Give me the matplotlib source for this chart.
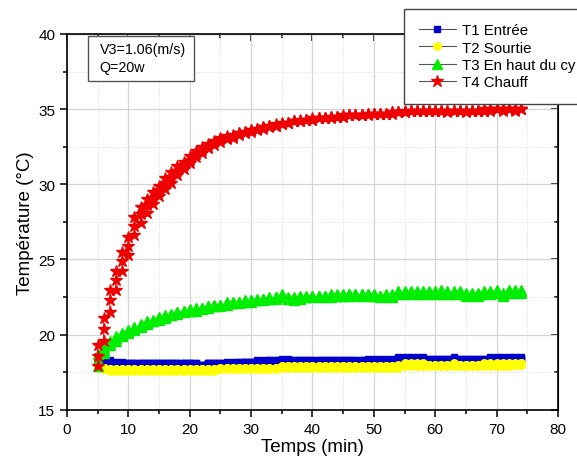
import numpy as np
import matplotlib
matplotlib.use("Agg")
import matplotlib.pyplot as plt
from matplotlib.patches import Rectangle
from matplotlib.ticker import MultipleLocator

plt.rcParams['font.family'] = ['Liberation Sans', 'DejaVu Sans']

# acquisition: 3 readings per minute, time logged in whole minutes
minutes = list(range(5, 75))
per_min = 3

t1_entree = [
    18.0, 18.3, 18.6,  18.5, 18.4, 18.3,  18.3, 18.2, 18.2,  18.2, 18.1, 18.1,  # 5-8
    18.1, 18.1, 18.2,  18.1, 18.1, 18.1,  18.1, 18.1, 18.1,  18.1, 18.1, 18.1,  # 9-12
    18.1, 18.1, 18.1,  18.1, 18.1, 18.1,  18.1, 18.1, 18.1,  18.1, 18.1, 18.1,  # 13-16
    18.1, 18.1, 18.1,  18.1, 18.1, 18.1,  18.1, 18.1, 18.1,  18.1, 18.1, 18.1,  # 17-20
    18.1, 18.1, 18.0,  18.0, 18.0, 18.0,  18.1, 18.1, 18.1,  18.1, 18.1, 18.1,  # 21-24
    18.1, 18.1, 18.1,  18.1, 18.1, 18.2,  18.1, 18.1, 18.2,  18.1, 18.2, 18.2,  # 25-28
    18.2, 18.2, 18.2,  18.2, 18.2, 18.2,  18.2, 18.2, 18.3,  18.2, 18.2, 18.3,  # 29-32
    18.2, 18.3, 18.3,  18.2, 18.3, 18.3,  18.3, 18.3, 18.4,  18.3, 18.3, 18.4,  # 33-36
    18.2, 18.3, 18.3,  18.2, 18.3, 18.3,  18.2, 18.3, 18.3,  18.2, 18.3, 18.3,  # 37-40
    18.2, 18.3, 18.3,  18.2, 18.3, 18.3,  18.2, 18.3, 18.3,  18.2, 18.3, 18.3,  # 41-44
    18.2, 18.3, 18.3,  18.2, 18.3, 18.3,  18.2, 18.3, 18.3,  18.2, 18.3, 18.3,  # 45-48
    18.3, 18.3, 18.4,  18.3, 18.3, 18.4,  18.3, 18.3, 18.4,  18.3, 18.3, 18.4,  # 49-52
    18.3, 18.3, 18.4,  18.4, 18.4, 18.5,  18.4, 18.4, 18.5,  18.4, 18.4, 18.5,  # 53-56
    18.4, 18.4, 18.5,  18.4, 18.4, 18.5,  18.3, 18.4, 18.4,  18.3, 18.4, 18.4,  # 57-60
    18.3, 18.4, 18.4,  18.3, 18.4, 18.4,  18.4, 18.4, 18.5,  18.3, 18.4, 18.4,  # 61-64
    18.3, 18.4, 18.4,  18.3, 18.4, 18.4,  18.3, 18.4, 18.4,  18.3, 18.4, 18.4,  # 65-68
    18.4, 18.4, 18.5,  18.4, 18.4, 18.5,  18.4, 18.4, 18.5,  18.4, 18.4, 18.5,  # 69-72
    18.4, 18.4, 18.5,  18.4, 18.4, 18.5,                                        # 73-74
]

t2_sortie = [
    18.0, 17.9, 17.8,  17.8, 17.8, 17.7,  17.7, 17.7, 17.6,  17.6, 17.7, 17.7,  # 5-8
    17.6, 17.7, 17.7,  17.6, 17.7, 17.7,  17.6, 17.7, 17.7,  17.6, 17.7, 17.7,  # 9-12
    17.6, 17.7, 17.7,  17.6, 17.7, 17.7,  17.6, 17.7, 17.7,  17.6, 17.7, 17.7,  # 13-16
    17.6, 17.7, 17.7,  17.6, 17.7, 17.7,  17.6, 17.7, 17.7,  17.6, 17.7, 17.7,  # 17-20
    17.6, 17.7, 17.7,  17.6, 17.7, 17.7,  17.6, 17.7, 17.7,  17.6, 17.7, 17.7,  # 21-24
    17.7, 17.8, 17.8,  17.7, 17.8, 17.8,  17.7, 17.8, 17.8,  17.7, 17.8, 17.8,  # 25-28
    17.7, 17.8, 17.8,  17.7, 17.8, 17.8,  17.7, 17.8, 17.8,  17.7, 17.8, 17.8,  # 29-32
    17.7, 17.8, 17.8,  17.7, 17.8, 17.8,  17.8, 17.9, 17.9,  17.8, 17.9, 17.9,  # 33-36
    17.8, 17.9, 17.9,  17.8, 17.9, 17.9,  17.8, 17.9, 17.9,  17.8, 17.9, 17.9,  # 37-40
    17.8, 17.9, 17.9,  17.8, 17.9, 17.9,  17.8, 17.9, 17.9,  17.8, 17.9, 17.9,  # 41-44
    17.8, 17.9, 17.9,  17.8, 17.9, 17.9,  17.8, 17.9, 17.9,  17.8, 17.9, 17.9,  # 45-48
    17.8, 17.9, 17.9,  17.8, 17.9, 17.9,  17.8, 17.9, 17.9,  17.8, 17.9, 17.9,  # 49-52
    17.8, 17.9, 17.9,  17.8, 17.9, 18.0,  17.9, 18.0, 18.1,  17.9, 18.0, 18.1,  # 53-56
    17.9, 18.0, 18.1,  17.9, 18.0, 18.1,  17.9, 18.0, 18.0,  17.9, 18.0, 18.0,  # 57-60
    17.9, 18.0, 18.0,  17.9, 18.0, 18.0,  17.9, 18.0, 18.1,  17.9, 18.0, 18.0,  # 61-64
    17.9, 18.0, 18.0,  17.9, 18.0, 18.0,  17.9, 18.0, 18.0,  17.9, 18.0, 18.1,  # 65-68
    17.9, 18.0, 18.1,  17.9, 18.0, 18.1,  17.9, 18.0, 18.1,  17.9, 18.0, 18.1,  # 69-72
    18.0, 18.0, 18.1,  18.0, 18.1, 18.1,                                        # 73-74
]

t3_haut = [
    17.9, 18.3, 18.7,  18.8, 19.0, 19.2,  19.3, 19.5, 19.6,  19.6, 19.8, 19.9,  # 5-8
    19.9, 20.0, 20.1,  20.1, 20.2, 20.3,  20.3, 20.4, 20.5,  20.5, 20.6, 20.7,  # 9-12
    20.7, 20.8, 20.9,  20.9, 20.9, 21.0,  21.0, 21.1, 21.2,  21.1, 21.2, 21.3,  # 13-16
    21.3, 21.3, 21.4,  21.4, 21.5, 21.5,  21.5, 21.6, 21.6,  21.6, 21.6, 21.7,  # 17-20
    21.6, 21.7, 21.8,  21.7, 21.8, 21.8,  21.8, 21.9, 21.9,  21.9, 21.9, 22.0,  # 21-24
    21.9, 22.0, 22.0,  22.0, 22.1, 22.2,  22.1, 22.1, 22.2,  22.1, 22.2, 22.2,  # 25-28
    22.2, 22.2, 22.3,  22.2, 22.3, 22.3,  22.3, 22.3, 22.4,  22.3, 22.4, 22.4,  # 29-32
    22.4, 22.4, 22.5,  22.4, 22.5, 22.5,  22.5, 22.6, 22.7,  22.4, 22.4, 22.5,  # 33-36
    22.3, 22.4, 22.5,  22.4, 22.5, 22.6,  22.5, 22.5, 22.6,  22.5, 22.6, 22.6,  # 37-40
    22.5, 22.6, 22.6,  22.5, 22.6, 22.6,  22.5, 22.6, 22.7,  22.6, 22.6, 22.7,  # 41-44
    22.6, 22.6, 22.7,  22.6, 22.7, 22.7,  22.6, 22.7, 22.7,  22.6, 22.7, 22.7,  # 45-48
    22.6, 22.7, 22.7,  22.6, 22.6, 22.7,  22.5, 22.6, 22.6,  22.5, 22.6, 22.7,  # 49-52
    22.5, 22.6, 22.7,  22.7, 22.8, 22.9,  22.7, 22.8, 22.9,  22.7, 22.8, 22.9,  # 53-56
    22.7, 22.8, 22.9,  22.7, 22.8, 22.9,  22.7, 22.8, 22.9,  22.7, 22.8, 22.9,  # 57-60
    22.7, 22.8, 23.0,  22.7, 22.8, 22.9,  22.7, 22.8, 22.9,  22.7, 22.8, 22.9,  # 61-64
    22.6, 22.7, 22.8,  22.6, 22.7, 22.8,  22.6, 22.7, 22.8,  22.7, 22.8, 22.9,  # 65-68
    22.7, 22.8, 22.9,  22.8, 22.9, 23.0,  22.6, 22.7, 22.8,  22.8, 22.9, 23.0,  # 69-72
    22.8, 22.9, 23.0,  22.8, 22.9, 23.0,                                        # 73-74
]

t4_chauff = [
    17.9, 18.6, 19.3,  19.6, 20.4, 21.1,  21.5, 22.3, 23.0,  23.0, 23.6, 24.2,  # 5-8
    24.2, 24.9, 25.5,  25.3, 25.9, 26.5,  26.6, 27.2, 27.8,  27.4, 28.0, 28.5,  # 9-12
    28.1, 28.6, 29.0,  28.7, 29.1, 29.5,  29.2, 29.6, 29.9,  29.7, 30.1, 30.4,  # 13-16
    30.1, 30.5, 30.8,  30.6, 30.9, 31.2,  31.0, 31.3, 31.5,  31.4, 31.6, 31.9,  # 17-20
    31.8, 32.0, 32.2,  32.1, 32.3, 32.5,  32.4, 32.5, 32.7,  32.6, 32.8, 32.9,  # 21-24
    32.8, 33.0, 33.1,  33.0, 33.1, 33.2,  33.1, 33.2, 33.3,  33.3, 33.4, 33.4,  # 25-28
    33.4, 33.5, 33.5,  33.5, 33.6, 33.6,  33.6, 33.7, 33.7,  33.7, 33.8, 33.8,  # 29-32
    33.8, 33.9, 33.9,  33.9, 33.9, 34.0,  34.0, 34.0, 34.1,  34.1, 34.1, 34.1,  # 33-36
    34.2, 34.2, 34.2,  34.2, 34.2, 34.3,  34.3, 34.3, 34.3,  34.3, 34.3, 34.4,  # 37-40
    34.4, 34.4, 34.4,  34.4, 34.4, 34.4,  34.4, 34.5, 34.5,  34.5, 34.5, 34.5,  # 41-44
    34.5, 34.5, 34.6,  34.6, 34.6, 34.6,  34.6, 34.6, 34.6,  34.6, 34.6, 34.6,  # 45-48
    34.6, 34.7, 34.7,  34.7, 34.7, 34.7,  34.7, 34.7, 34.7,  34.7, 34.7, 34.7,  # 49-52
    34.7, 34.8, 34.8,  34.8, 34.8, 34.8,  34.8, 34.8, 34.9,  34.9, 34.9, 34.9,  # 53-56
    34.9, 34.9, 34.9,  34.9, 34.9, 34.9,  34.9, 34.9, 34.9,  34.9, 34.9, 34.9,  # 57-60
    34.9, 34.9, 34.9,  34.8, 34.9, 34.9,  34.9, 34.9, 34.9,  34.9, 34.9, 34.9,  # 61-64
    34.8, 34.9, 34.9,  34.9, 34.9, 34.9,  34.9, 34.9, 34.9,  34.9, 34.9, 35.0,  # 65-68
    34.9, 35.0, 35.0,  35.0, 35.0, 35.0,  35.0, 35.0, 34.9,  35.0, 35.0, 35.0,  # 69-72
    34.9, 35.0, 35.0,  35.0, 35.0, 35.0,                                        # 73-74
]

labels = ["T1 Entrée", "T2 Sourtie", "T3 En haut du cy", "T4 Chauff"]

temps = np.repeat(minutes, per_min)

fig = plt.figure(figsize=(5.77, 4.60), dpi=100)
ax = fig.add_axes([0.116, 0.107, 0.851, 0.817])

series = [
    (t1_entree, 's', '#0000cc', 5.0),
    (t2_sortie, 'o', '#ffff00', 5.4),
    (t3_haut, '^', '#00ee00', 7.0),
    (t4_chauff, '*', '#ee0000', 9.0),
]
for (vals, mk, col, ms), lab in zip(series, labels):
    ax.plot(temps, vals, color=col, lw=0.8, marker=mk, ms=ms,
            mfc=col, mec=col, label=lab, zorder=3)

ax.set_xlim(0, 80)
ax.set_ylim(15, 40)
ax.xaxis.set_major_locator(MultipleLocator(10))
ax.xaxis.set_minor_locator(MultipleLocator(5))
ax.yaxis.set_major_locator(MultipleLocator(5))
ax.yaxis.set_minor_locator(MultipleLocator(2.5))
ax.grid(which='major', color='#d4d4d4', lw=0.9)
ax.grid(which='minor', color='#dadada', lw=0.7, ls=':')
ax.set_axisbelow(True)

ax.tick_params(which='both', direction='out', labelsize=11, width=1.1)
ax.tick_params(which='major', length=5)
ax.tick_params(which='minor', length=3)
for sp in ax.spines.values():
    sp.set_linewidth(1.2)

# top and right axes: ticks pointing inwards, no labels
top = ax.secondary_xaxis('top')
top.xaxis.set_major_locator(MultipleLocator(10))
top.xaxis.set_minor_locator(MultipleLocator(5))
top.tick_params(which='both', direction='in', labeltop=False, width=1.1)
top.tick_params(which='major', length=5)
top.tick_params(which='minor', length=3)
right = ax.secondary_yaxis('right')
right.yaxis.set_major_locator(MultipleLocator(5))
right.yaxis.set_minor_locator(MultipleLocator(2.5))
right.tick_params(which='both', direction='in', labelright=False, width=1.1)
right.tick_params(which='major', length=5)
right.tick_params(which='minor', length=3)

ax.set_xlabel("Temps (min)", fontsize=13.5, labelpad=2)
ax.set_ylabel("Température (°C)", fontsize=13.5, labelpad=3)

# info box with flow speed and heating power
ax.add_patch(Rectangle((0.043, 0.875), 0.216, 0.12, transform=ax.transAxes,
                       fc='white', ec='#555555', lw=1, zorder=4))
ax.text(0.067, 0.978, "V3=1.06(m/s)\nQ=20w", transform=ax.transAxes,
        fontsize=10.3, va='top', ha='left', linespacing=1.3, zorder=5)

leg = fig.legend(loc='upper left', bbox_to_anchor=(0.701, 0.978),
                 fontsize=10.8, frameon=True, fancybox=False, edgecolor='#444444',
                 framealpha=1, handlelength=2.5, handletextpad=0.4,
                 labelspacing=0.22, borderpad=0.95, borderaxespad=0)
leg.get_frame().set_linewidth(1.0)
for ln in leg.get_lines():
    ln.set_color('#555555')

fig.savefig("out.png", dpi=100)
